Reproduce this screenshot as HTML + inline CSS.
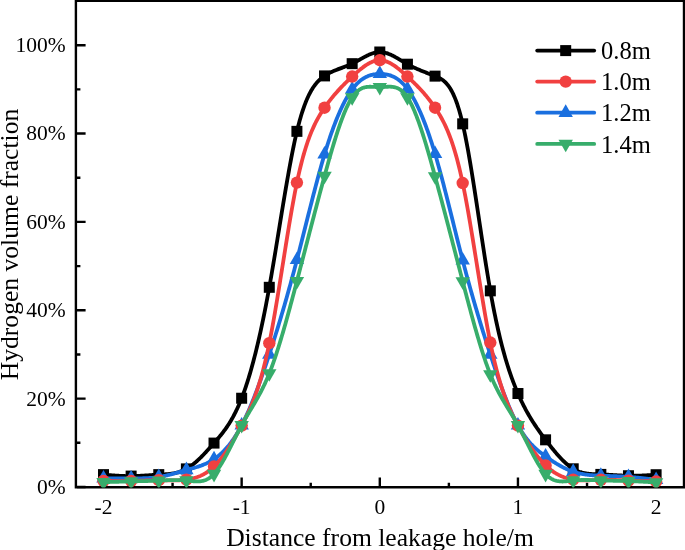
<!DOCTYPE html><html><head><meta charset="utf-8"><style>html,body{margin:0;padding:0;background:#fff;}svg{display:block;will-change:transform;}text{font-family:"Liberation Serif",serif;fill:#000;}</style></head><body>
<svg width="685" height="550" viewBox="0 0 685 550">
<rect x="0" y="0" width="685" height="550" fill="#fff"/>
<path d="M75.9,0 V488.4 M74.7,487.2 H685 M684,0 V488.4 M74.7,0.9 H685" stroke="#000" stroke-width="2.4" fill="none"/>
<path d="M77,487.00 H85.6 M77,398.64 H85.6 M77,310.28 H85.6 M77,221.92 H85.6 M77,133.56 H85.6 M77,45.20 H85.6 M77,442.82 H80.4 M77,354.46 H80.4 M77,266.10 H80.4 M77,177.74 H80.4 M77,89.38 H80.4 M103.50,486 V477.6 M241.65,486 V477.6 M379.80,486 V477.6 M517.95,486 V477.6 M656.10,486 V477.6 M172.57,486 V482.7 M310.73,486 V482.7 M448.88,486 V482.7 M587.03,486 V482.7" stroke="#000" stroke-width="2.4" fill="none"/>
<defs><clipPath id="pc"><rect x="75.9" y="0" width="608" height="487.5"/></clipPath></defs>
<g clip-path="url(#pc)">
<polyline points="103.50,474.63 104.19,474.69 104.88,474.74 105.57,474.80 106.26,474.86 106.95,474.91 107.64,474.97 108.34,475.03 109.03,475.08 109.72,475.13 110.41,475.19 111.10,475.24 111.79,475.29 112.48,475.34 113.17,475.39 113.86,475.44 114.55,475.49 115.24,475.54 115.93,475.58 116.62,475.63 117.31,475.67 118.01,475.71 118.70,475.75 119.39,475.79 120.08,475.82 120.77,475.86 121.46,475.89 122.15,475.92 122.84,475.95 123.53,475.97 124.22,475.99 124.91,476.02 125.60,476.03 126.29,476.05 126.99,476.06 127.68,476.07 128.37,476.08 129.06,476.09 129.75,476.09 130.44,476.09 131.13,476.09 131.82,476.08 132.51,476.07 133.20,476.06 133.89,476.04 134.58,476.03 135.27,476.01 135.97,475.98 136.66,475.96 137.35,475.93 138.04,475.90 138.73,475.87 139.42,475.84 140.11,475.80 140.80,475.77 141.49,475.73 142.18,475.69 142.87,475.65 143.56,475.61 144.25,475.57 144.95,475.52 145.64,475.48 146.33,475.43 147.02,475.39 147.71,475.34 148.40,475.29 149.09,475.25 149.78,475.20 150.47,475.15 151.16,475.11 151.85,475.06 152.54,475.01 153.23,474.97 153.92,474.92 154.62,474.88 155.31,474.83 156.00,474.79 156.69,474.75 157.38,474.71 158.07,474.67 158.76,474.63 159.45,474.59 160.14,474.56 160.83,474.52 161.52,474.49 162.21,474.45 162.90,474.41 163.60,474.37 164.29,474.33 164.98,474.29 165.67,474.24 166.36,474.19 167.05,474.14 167.74,474.08 168.43,474.02 169.12,473.95 169.81,473.87 170.50,473.79 171.19,473.70 171.88,473.60 172.57,473.50 173.27,473.38 173.96,473.26 174.65,473.13 175.34,472.98 176.03,472.83 176.72,472.66 177.41,472.49 178.10,472.30 178.79,472.10 179.48,471.88 180.17,471.65 180.86,471.41 181.55,471.15 182.25,470.88 182.94,470.59 183.63,470.28 184.32,469.96 185.01,469.62 185.70,469.26 186.39,468.89 187.08,468.49 187.77,468.08 188.46,467.65 189.15,467.20 189.84,466.73 190.53,466.25 191.23,465.75 191.92,465.24 192.61,464.71 193.30,464.16 193.99,463.61 194.68,463.03 195.37,462.45 196.06,461.85 196.75,461.23 197.44,460.61 198.13,459.97 198.82,459.32 199.51,458.67 200.21,458.00 200.90,457.32 201.59,456.63 202.28,455.93 202.97,455.22 203.66,454.51 204.35,453.78 205.04,453.05 205.73,452.32 206.42,451.57 207.11,450.82 207.80,450.07 208.49,449.31 209.18,448.54 209.88,447.77 210.57,447.00 211.26,446.22 211.95,445.44 212.64,444.66 213.33,443.87 214.02,443.09 214.71,442.30 215.40,441.51 216.09,440.71 216.78,439.91 217.47,439.11 218.16,438.30 218.86,437.48 219.55,436.65 220.24,435.81 220.93,434.96 221.62,434.09 222.31,433.21 223.00,432.32 223.69,431.41 224.38,430.48 225.07,429.54 225.76,428.57 226.45,427.59 227.14,426.58 227.83,425.55 228.53,424.49 229.22,423.41 229.91,422.30 230.60,421.16 231.29,420.00 231.98,418.80 232.67,417.57 233.36,416.31 234.05,415.02 234.74,413.69 235.43,412.33 236.12,410.93 236.81,409.49 237.51,408.01 238.20,406.49 238.89,404.93 239.58,403.32 240.27,401.68 240.96,399.98 241.65,398.24 242.34,396.45 243.03,394.62 243.72,392.74 244.41,390.80 245.10,388.82 245.79,386.80 246.49,384.72 247.18,382.59 247.87,380.42 248.56,378.19 249.25,375.92 249.94,373.59 250.63,371.22 251.32,368.79 252.01,366.31 252.70,363.79 253.39,361.21 254.08,358.58 254.77,355.90 255.47,353.16 256.16,350.38 256.85,347.54 257.54,344.65 258.23,341.71 258.92,338.72 259.61,335.67 260.30,332.57 260.99,329.41 261.68,326.20 262.37,322.94 263.06,319.63 263.75,316.25 264.44,312.83 265.14,309.35 265.83,305.81 266.52,302.22 267.21,298.58 267.90,294.88 268.59,291.12 269.28,287.31 269.97,283.44 270.66,279.52 271.35,275.55 272.04,271.53 272.73,267.48 273.42,263.39 274.12,259.27 274.81,255.11 275.50,250.94 276.19,246.74 276.88,242.53 277.57,238.31 278.26,234.08 278.95,229.84 279.64,225.60 280.33,221.37 281.02,217.15 281.71,212.93 282.40,208.74 283.10,204.56 283.79,200.40 284.48,196.28 285.17,192.18 285.86,188.13 286.55,184.11 287.24,180.13 287.93,176.21 288.62,172.33 289.31,168.52 290.00,164.76 290.69,161.06 291.38,157.44 292.07,153.88 292.77,150.40 293.46,147.00 294.15,143.69 294.84,140.46 295.53,137.33 296.22,134.29 296.91,131.35 297.60,128.52 298.29,125.78 298.98,123.15 299.67,120.61 300.36,118.17 301.05,115.82 301.75,113.56 302.44,111.40 303.13,109.31 303.82,107.32 304.51,105.40 305.20,103.57 305.89,101.81 306.58,100.13 307.27,98.52 307.96,96.99 308.65,95.52 309.34,94.12 310.03,92.79 310.73,91.51 311.42,90.30 312.11,89.15 312.80,88.05 313.49,87.01 314.18,86.02 314.87,85.08 315.56,84.18 316.25,83.34 316.94,82.53 317.63,81.77 318.32,81.04 319.01,80.35 319.70,79.70 320.40,79.08 321.09,78.49 321.78,77.92 322.47,77.39 323.16,76.87 323.85,76.38 324.54,75.91 325.23,75.45 325.92,75.01 326.61,74.59 327.30,74.18 327.99,73.78 328.68,73.40 329.38,73.03 330.07,72.68 330.76,72.33 331.45,72.00 332.14,71.68 332.83,71.37 333.52,71.06 334.21,70.77 334.90,70.48 335.59,70.19 336.28,69.92 336.97,69.65 337.66,69.38 338.36,69.12 339.05,68.86 339.74,68.61 340.43,68.35 341.12,68.10 341.81,67.85 342.50,67.60 343.19,67.34 343.88,67.09 344.57,66.83 345.26,66.57 345.95,66.31 346.64,66.04 347.33,65.77 348.03,65.49 348.72,65.21 349.41,64.92 350.10,64.62 350.79,64.31 351.48,63.99 352.17,63.67 352.86,63.33 353.55,62.99 354.24,62.63 354.93,62.27 355.62,61.90 356.31,61.53 357.01,61.15 357.70,60.76 358.39,60.38 359.08,59.99 359.77,59.60 360.46,59.21 361.15,58.82 361.84,58.43 362.53,58.05 363.22,57.67 363.91,57.29 364.60,56.92 365.29,56.55 365.99,56.19 366.68,55.85 367.37,55.50 368.06,55.17 368.75,54.86 369.44,54.55 370.13,54.25 370.82,53.97 371.51,53.71 372.20,53.46 372.89,53.22 373.58,53.01 374.27,52.81 374.96,52.63 375.66,52.47 376.35,52.34 377.04,52.22 377.73,52.13 378.42,52.06 379.11,52.02 379.80,52.00 380.49,52.01 381.18,52.05 381.87,52.11 382.56,52.20 383.25,52.31 383.94,52.44 384.64,52.59 385.33,52.76 386.02,52.96 386.71,53.17 387.40,53.40 388.09,53.65 388.78,53.92 389.47,54.20 390.16,54.49 390.85,54.80 391.54,55.13 392.23,55.46 392.92,55.81 393.62,56.17 394.31,56.53 395.00,56.91 395.69,57.29 396.38,57.68 397.07,58.08 397.76,58.48 398.45,58.89 399.14,59.30 399.83,59.71 400.52,60.13 401.21,60.54 401.90,60.96 402.59,61.38 403.29,61.79 403.98,62.20 404.67,62.61 405.36,63.02 406.05,63.42 406.74,63.81 407.43,64.20 408.12,64.58 408.81,64.95 409.50,65.32 410.19,65.67 410.88,66.03 411.57,66.37 412.27,66.71 412.96,67.05 413.65,67.37 414.34,67.70 415.03,68.02 415.72,68.33 416.41,68.64 417.10,68.94 417.79,69.24 418.48,69.54 419.17,69.83 419.86,70.12 420.55,70.41 421.25,70.69 421.94,70.97 422.63,71.25 423.32,71.52 424.01,71.80 424.70,72.07 425.39,72.34 426.08,72.61 426.77,72.88 427.46,73.15 428.15,73.42 428.84,73.69 429.53,73.95 430.22,74.22 430.92,74.49 431.61,74.76 432.30,75.03 432.99,75.30 433.68,75.57 434.37,75.85 435.06,76.13 435.75,76.41 436.44,76.69 437.13,76.98 437.82,77.29 438.51,77.61 439.20,77.95 439.90,78.31 440.59,78.70 441.28,79.12 441.97,79.56 442.66,80.04 443.35,80.56 444.04,81.12 444.73,81.73 445.42,82.38 446.11,83.09 446.80,83.85 447.49,84.67 448.18,85.54 448.88,86.49 449.57,87.50 450.26,88.58 450.95,89.73 451.64,90.96 452.33,92.27 453.02,93.67 453.71,95.15 454.40,96.73 455.09,98.39 455.78,100.16 456.47,102.02 457.16,103.99 457.85,106.06 458.55,108.25 459.24,110.54 459.93,112.96 460.62,115.49 461.31,118.15 462.00,120.93 462.69,123.84 463.38,126.88 464.07,130.05 464.76,133.35 465.45,136.75 466.14,140.27 466.83,143.90 467.53,147.62 468.22,151.44 468.91,155.35 469.60,159.34 470.29,163.41 470.98,167.55 471.67,171.76 472.36,176.03 473.05,180.36 473.74,184.74 474.43,189.16 475.12,193.63 475.81,198.13 476.51,202.65 477.20,207.20 477.89,211.77 478.58,216.35 479.27,220.94 479.96,225.53 480.65,230.11 481.34,234.69 482.03,239.25 482.72,243.79 483.41,248.31 484.10,252.79 484.79,257.24 485.48,261.64 486.18,266.00 486.87,270.30 487.56,274.55 488.25,278.73 488.94,282.85 489.63,286.88 490.32,290.84 491.01,294.71 491.70,298.50 492.39,302.21 493.08,305.83 493.77,309.37 494.46,312.84 495.16,316.22 495.85,319.53 496.54,322.77 497.23,325.93 497.92,329.02 498.61,332.04 499.30,334.99 499.99,337.88 500.68,340.69 501.37,343.44 502.06,346.13 502.75,348.75 503.44,351.32 504.13,353.82 504.83,356.27 505.52,358.66 506.21,360.99 506.90,363.27 507.59,365.50 508.28,367.67 508.97,369.80 509.66,371.87 510.35,373.90 511.04,375.89 511.73,377.83 512.42,379.72 513.11,381.58 513.81,383.39 514.50,385.17 515.19,386.91 515.88,388.61 516.57,390.28 517.26,391.91 517.95,393.52 518.64,395.09 519.33,396.63 520.02,398.14 520.71,399.62 521.40,401.08 522.09,402.51 522.79,403.91 523.48,405.29 524.17,406.64 524.86,407.97 525.55,409.27 526.24,410.55 526.93,411.81 527.62,413.04 528.31,414.26 529.00,415.45 529.69,416.63 530.38,417.78 531.07,418.92 531.77,420.04 532.46,421.15 533.15,422.23 533.84,423.31 534.53,424.36 535.22,425.41 535.91,426.43 536.60,427.45 537.29,428.46 537.98,429.45 538.67,430.43 539.36,431.40 540.05,432.37 540.74,433.32 541.44,434.27 542.13,435.21 542.82,436.14 543.51,437.06 544.20,437.99 544.89,438.90 545.58,439.82 546.27,440.73 546.96,441.63 547.65,442.53 548.34,443.43 549.03,444.32 549.72,445.21 550.42,446.09 551.11,446.96 551.80,447.83 552.49,448.69 553.18,449.54 553.87,450.39 554.56,451.22 555.25,452.05 555.94,452.87 556.63,453.67 557.32,454.47 558.01,455.25 558.70,456.03 559.40,456.79 560.09,457.54 560.78,458.27 561.47,459.00 562.16,459.71 562.85,460.40 563.54,461.08 564.23,461.74 564.92,462.39 565.61,463.03 566.30,463.64 566.99,464.24 567.68,464.83 568.37,465.39 569.07,465.94 569.76,466.46 570.45,466.97 571.14,467.46 571.83,467.93 572.52,468.37 573.21,468.80 573.90,469.20 574.59,469.59 575.28,469.95 575.97,470.29 576.66,470.61 577.35,470.92 578.05,471.21 578.74,471.48 579.43,471.73 580.12,471.96 580.81,472.18 581.50,472.39 582.19,472.58 582.88,472.76 583.57,472.92 584.26,473.07 584.95,473.21 585.64,473.34 586.33,473.45 587.03,473.56 587.72,473.66 588.41,473.74 589.10,473.82 589.79,473.89 590.48,473.95 591.17,474.01 591.86,474.06 592.55,474.10 593.24,474.14 593.93,474.18 594.62,474.21 595.31,474.24 596.00,474.26 596.70,474.28 597.39,474.30 598.08,474.32 598.77,474.34 599.46,474.36 600.15,474.39 600.84,474.41 601.53,474.43 602.22,474.46 602.91,474.49 603.60,474.52 604.29,474.55 604.98,474.58 605.68,474.62 606.37,474.65 607.06,474.69 607.75,474.73 608.44,474.77 609.13,474.81 609.82,474.85 610.51,474.89 611.20,474.93 611.89,474.97 612.58,475.01 613.27,475.05 613.96,475.09 614.66,475.14 615.35,475.18 616.04,475.22 616.73,475.26 617.42,475.30 618.11,475.33 618.80,475.37 619.49,475.41 620.18,475.44 620.87,475.48 621.56,475.51 622.25,475.54 622.94,475.57 623.63,475.60 624.33,475.63 625.02,475.65 625.71,475.67 626.40,475.69 627.09,475.71 627.78,475.72 628.47,475.73 629.16,475.74 629.85,475.75 630.54,475.75 631.23,475.76 631.92,475.76 632.61,475.75 633.31,475.75 634.00,475.74 634.69,475.73 635.38,475.72 636.07,475.70 636.76,475.69 637.45,475.67 638.14,475.65 638.83,475.63 639.52,475.61 640.21,475.58 640.90,475.55 641.59,475.53 642.29,475.50 642.98,475.47 643.67,475.43 644.36,475.40 645.05,475.37 645.74,475.33 646.43,475.30 647.12,475.26 647.81,475.22 648.50,475.18 649.19,475.14 649.88,475.10 650.57,475.06 651.26,475.02 651.96,474.98 652.65,474.93 653.34,474.89 654.03,474.85 654.72,474.80 655.41,474.76 656.10,474.72" fill="none" stroke="#000000" stroke-width="3.8" stroke-linejoin="round"/>
<rect x="98.00" y="469.13" width="11.0" height="11.0" fill="#000000"/>
<rect x="125.63" y="470.59" width="11.0" height="11.0" fill="#000000"/>
<rect x="153.26" y="469.13" width="11.0" height="11.0" fill="#000000"/>
<rect x="180.89" y="463.39" width="11.0" height="11.0" fill="#000000"/>
<rect x="208.52" y="437.59" width="11.0" height="11.0" fill="#000000"/>
<rect x="236.15" y="392.74" width="11.0" height="11.0" fill="#000000"/>
<rect x="263.78" y="281.81" width="11.0" height="11.0" fill="#000000"/>
<rect x="291.41" y="125.85" width="11.0" height="11.0" fill="#000000"/>
<rect x="319.04" y="70.41" width="11.0" height="11.0" fill="#000000"/>
<rect x="346.67" y="58.17" width="11.0" height="11.0" fill="#000000"/>
<rect x="374.30" y="46.50" width="11.0" height="11.0" fill="#000000"/>
<rect x="401.93" y="58.70" width="11.0" height="11.0" fill="#000000"/>
<rect x="429.56" y="70.63" width="11.0" height="11.0" fill="#000000"/>
<rect x="457.19" y="118.34" width="11.0" height="11.0" fill="#000000"/>
<rect x="484.82" y="285.34" width="11.0" height="11.0" fill="#000000"/>
<rect x="512.45" y="388.02" width="11.0" height="11.0" fill="#000000"/>
<rect x="540.08" y="434.32" width="11.0" height="11.0" fill="#000000"/>
<rect x="567.71" y="463.30" width="11.0" height="11.0" fill="#000000"/>
<rect x="595.34" y="468.91" width="11.0" height="11.0" fill="#000000"/>
<rect x="622.97" y="470.23" width="11.0" height="11.0" fill="#000000"/>
<rect x="650.60" y="469.22" width="11.0" height="11.0" fill="#000000"/>
<polyline points="103.50,478.38 104.19,478.38 104.88,478.38 105.57,478.37 106.26,478.37 106.95,478.36 107.64,478.36 108.34,478.35 109.03,478.35 109.72,478.34 110.41,478.34 111.10,478.34 111.79,478.33 112.48,478.33 113.17,478.32 113.86,478.32 114.55,478.32 115.24,478.31 115.93,478.31 116.62,478.31 117.31,478.31 118.01,478.30 118.70,478.30 119.39,478.30 120.08,478.30 120.77,478.29 121.46,478.29 122.15,478.29 122.84,478.29 123.53,478.29 124.22,478.29 124.91,478.29 125.60,478.29 126.29,478.29 126.99,478.29 127.68,478.29 128.37,478.29 129.06,478.29 129.75,478.29 130.44,478.29 131.13,478.30 131.82,478.30 132.51,478.30 133.20,478.30 133.89,478.31 134.58,478.31 135.27,478.31 135.97,478.31 136.66,478.31 137.35,478.31 138.04,478.31 138.73,478.31 139.42,478.31 140.11,478.30 140.80,478.30 141.49,478.29 142.18,478.28 142.87,478.26 143.56,478.25 144.25,478.23 144.95,478.21 145.64,478.19 146.33,478.16 147.02,478.13 147.71,478.10 148.40,478.06 149.09,478.02 149.78,477.98 150.47,477.93 151.16,477.88 151.85,477.83 152.54,477.77 153.23,477.71 153.92,477.64 154.62,477.56 155.31,477.49 156.00,477.40 156.69,477.31 157.38,477.22 158.07,477.12 158.76,477.02 159.45,476.90 160.14,476.79 160.83,476.67 161.52,476.54 162.21,476.40 162.90,476.27 163.60,476.12 164.29,475.98 164.98,475.83 165.67,475.67 166.36,475.51 167.05,475.35 167.74,475.18 168.43,475.01 169.12,474.84 169.81,474.66 170.50,474.48 171.19,474.30 171.88,474.11 172.57,473.93 173.27,473.74 173.96,473.54 174.65,473.35 175.34,473.16 176.03,472.96 176.72,472.76 177.41,472.57 178.10,472.37 178.79,472.17 179.48,471.97 180.17,471.77 180.86,471.57 181.55,471.37 182.25,471.17 182.94,470.97 183.63,470.77 184.32,470.58 185.01,470.38 185.70,470.18 186.39,469.99 187.08,469.80 187.77,469.61 188.46,469.42 189.15,469.23 189.84,469.04 190.53,468.85 191.23,468.66 191.92,468.47 192.61,468.27 193.30,468.08 193.99,467.88 194.68,467.68 195.37,467.47 196.06,467.27 196.75,467.05 197.44,466.84 198.13,466.61 198.82,466.39 199.51,466.15 200.21,465.91 200.90,465.67 201.59,465.41 202.28,465.15 202.97,464.89 203.66,464.61 204.35,464.32 205.04,464.03 205.73,463.72 206.42,463.41 207.11,463.08 207.80,462.75 208.49,462.40 209.18,462.04 209.88,461.67 210.57,461.29 211.26,460.89 211.95,460.48 212.64,460.06 213.33,459.62 214.02,459.17 214.71,458.70 215.40,458.22 216.09,457.72 216.78,457.20 217.47,456.67 218.16,456.13 218.86,455.56 219.55,454.98 220.24,454.38 220.93,453.76 221.62,453.13 222.31,452.47 223.00,451.80 223.69,451.11 224.38,450.40 225.07,449.66 225.76,448.91 226.45,448.14 227.14,447.35 227.83,446.53 228.53,445.70 229.22,444.84 229.91,443.96 230.60,443.05 231.29,442.13 231.98,441.18 232.67,440.21 233.36,439.21 234.05,438.19 234.74,437.15 235.43,436.08 236.12,434.98 236.81,433.86 237.51,432.72 238.20,431.54 238.89,430.35 239.58,429.12 240.27,427.87 240.96,426.59 241.65,425.28 242.34,423.95 243.03,422.58 243.72,421.19 244.41,419.78 245.10,418.33 245.79,416.86 246.49,415.37 247.18,413.85 247.87,412.30 248.56,410.73 249.25,409.14 249.94,407.53 250.63,405.89 251.32,404.22 252.01,402.54 252.70,400.83 253.39,399.11 254.08,397.36 254.77,395.59 255.47,393.80 256.16,391.99 256.85,390.17 257.54,388.32 258.23,386.46 258.92,384.57 259.61,382.67 260.30,380.76 260.99,378.82 261.68,376.87 262.37,374.90 263.06,372.92 263.75,370.93 264.44,368.91 265.14,366.89 265.83,364.85 266.52,362.80 267.21,360.73 267.90,358.65 268.59,356.56 269.28,354.46 269.97,352.35 270.66,350.22 271.35,348.09 272.04,345.94 272.73,343.78 273.42,341.61 274.12,339.42 274.81,337.23 275.50,335.02 276.19,332.80 276.88,330.57 277.57,328.32 278.26,326.07 278.95,323.79 279.64,321.51 280.33,319.22 281.02,316.91 281.71,314.58 282.40,312.25 283.10,309.90 283.79,307.54 284.48,305.16 285.17,302.77 285.86,300.36 286.55,297.95 287.24,295.51 287.93,293.07 288.62,290.61 289.31,288.13 290.00,285.64 290.69,283.14 291.38,280.62 292.07,278.08 292.77,275.53 293.46,272.97 294.15,270.39 294.84,267.79 295.53,265.18 296.22,262.56 296.91,259.91 297.60,257.26 298.29,254.58 298.98,251.90 299.67,249.20 300.36,246.49 301.05,243.77 301.75,241.05 302.44,238.31 303.13,235.57 303.82,232.83 304.51,230.08 305.20,227.33 305.89,224.58 306.58,221.82 307.27,219.07 307.96,216.32 308.65,213.58 309.34,210.84 310.03,208.11 310.73,205.38 311.42,202.66 312.11,199.96 312.80,197.26 313.49,194.58 314.18,191.91 314.87,189.25 315.56,186.61 316.25,183.99 316.94,181.39 317.63,178.81 318.32,176.24 319.01,173.70 319.70,171.19 320.40,168.69 321.09,166.23 321.78,163.79 322.47,161.38 323.16,158.99 323.85,156.64 324.54,154.32 325.23,152.04 325.92,149.79 326.61,147.57 327.30,145.38 327.99,143.23 328.68,141.11 329.38,139.03 330.07,136.97 330.76,134.96 331.45,132.97 332.14,131.02 332.83,129.10 333.52,127.22 334.21,125.37 334.90,123.56 335.59,121.78 336.28,120.03 336.97,118.32 337.66,116.64 338.36,114.99 339.05,113.38 339.74,111.81 340.43,110.27 341.12,108.76 341.81,107.29 342.50,105.85 343.19,104.45 343.88,103.08 344.57,101.74 345.26,100.45 345.95,99.18 346.64,97.95 347.33,96.76 348.03,95.60 348.72,94.47 349.41,93.38 350.10,92.33 350.79,91.31 351.48,90.33 352.17,89.38 352.86,88.47 353.55,87.59 354.24,86.74 354.93,85.93 355.62,85.16 356.31,84.41 357.01,83.70 357.70,83.01 358.39,82.36 359.08,81.74 359.77,81.15 360.46,80.58 361.15,80.05 361.84,79.54 362.53,79.05 363.22,78.60 363.91,78.17 364.60,77.76 365.29,77.38 365.99,77.02 366.68,76.69 367.37,76.38 368.06,76.09 368.75,75.82 369.44,75.57 370.13,75.34 370.82,75.14 371.51,74.95 372.20,74.77 372.89,74.62 373.58,74.48 374.27,74.36 374.96,74.26 375.66,74.17 376.35,74.09 377.04,74.03 377.73,73.99 378.42,73.95 379.11,73.93 379.80,73.92 380.49,73.92 381.18,73.93 381.87,73.95 382.56,73.99 383.25,74.04 383.94,74.10 384.64,74.18 385.33,74.27 386.02,74.38 386.71,74.51 387.40,74.65 388.09,74.81 388.78,74.99 389.47,75.18 390.16,75.40 390.85,75.64 391.54,75.89 392.23,76.17 392.92,76.47 393.62,76.80 394.31,77.14 395.00,77.51 395.69,77.91 396.38,78.33 397.07,78.77 397.76,79.24 398.45,79.74 399.14,80.27 399.83,80.82 400.52,81.40 401.21,82.01 401.90,82.66 402.59,83.33 403.29,84.03 403.98,84.77 404.67,85.53 405.36,86.33 406.05,87.17 406.74,88.04 407.43,88.94 408.12,89.88 408.81,90.85 409.50,91.86 410.19,92.90 410.88,93.98 411.57,95.10 412.27,96.25 412.96,97.43 413.65,98.66 414.34,99.91 415.03,101.20 415.72,102.53 416.41,103.89 417.10,105.29 417.79,106.72 418.48,108.19 419.17,109.69 419.86,111.23 420.55,112.80 421.25,114.41 421.94,116.05 422.63,117.73 423.32,119.44 424.01,121.19 424.70,122.97 425.39,124.79 426.08,126.64 426.77,128.53 427.46,130.45 428.15,132.40 428.84,134.40 429.53,136.42 430.22,138.48 430.92,140.58 431.61,142.71 432.30,144.88 432.99,147.08 433.68,149.31 434.37,151.58 435.06,153.88 435.75,156.22 436.44,158.59 437.13,161.00 437.82,163.43 438.51,165.89 439.20,168.38 439.90,170.90 440.59,173.45 441.28,176.01 441.97,178.60 442.66,181.22 443.35,183.85 444.04,186.50 444.73,189.17 445.42,191.85 446.11,194.55 446.80,197.26 447.49,199.99 448.18,202.72 448.88,205.47 449.57,208.22 450.26,210.98 450.95,213.75 451.64,216.52 452.33,219.29 453.02,222.07 453.71,224.84 454.40,227.62 455.09,230.39 455.78,233.16 456.47,235.92 457.16,238.68 457.85,241.43 458.55,244.17 459.24,246.90 459.93,249.62 460.62,252.33 461.31,255.02 462.00,257.70 462.69,260.36 463.38,263.00 464.07,265.62 464.76,268.23 465.45,270.82 466.14,273.39 466.83,275.95 467.53,278.49 468.22,281.01 468.91,283.52 469.60,286.01 470.29,288.48 470.98,290.94 471.67,293.38 472.36,295.81 473.05,298.23 473.74,300.62 474.43,303.01 475.12,305.38 475.81,307.74 476.51,310.08 477.20,312.41 477.89,314.73 478.58,317.03 479.27,319.32 479.96,321.60 480.65,323.87 481.34,326.13 482.03,328.37 482.72,330.60 483.41,332.82 484.10,335.03 484.79,337.23 485.48,339.42 486.18,341.60 486.87,343.76 487.56,345.92 488.25,348.07 488.94,350.21 489.63,352.34 490.32,354.46 491.01,356.57 491.70,358.68 492.39,360.77 493.08,362.85 493.77,364.92 494.46,366.98 495.16,369.03 495.85,371.06 496.54,373.08 497.23,375.09 497.92,377.08 498.61,379.05 499.30,381.01 499.99,382.95 500.68,384.88 501.37,386.78 502.06,388.67 502.75,390.54 503.44,392.38 504.13,394.21 504.83,396.01 505.52,397.80 506.21,399.56 506.90,401.29 507.59,403.01 508.28,404.69 508.97,406.36 509.66,407.99 510.35,409.60 511.04,411.18 511.73,412.74 512.42,414.26 513.11,415.76 513.81,417.23 514.50,418.67 515.19,420.07 515.88,421.44 516.57,422.79 517.26,424.09 517.95,425.37 518.64,426.61 519.33,427.82 520.02,428.99 520.71,430.13 521.40,431.24 522.09,432.33 522.79,433.38 523.48,434.40 524.17,435.39 524.86,436.36 525.55,437.30 526.24,438.21 526.93,439.10 527.62,439.96 528.31,440.80 529.00,441.62 529.69,442.42 530.38,443.19 531.07,443.95 531.77,444.68 532.46,445.40 533.15,446.09 533.84,446.77 534.53,447.43 535.22,448.08 535.91,448.71 536.60,449.33 537.29,449.93 537.98,450.52 538.67,451.10 539.36,451.67 540.05,452.22 540.74,452.77 541.44,453.31 542.13,453.84 542.82,454.36 543.51,454.87 544.20,455.38 544.89,455.88 545.58,456.38 546.27,456.88 546.96,457.37 547.65,457.86 548.34,458.34 549.03,458.82 549.72,459.29 550.42,459.76 551.11,460.23 551.80,460.69 552.49,461.14 553.18,461.59 553.87,462.03 554.56,462.47 555.25,462.90 555.94,463.33 556.63,463.75 557.32,464.17 558.01,464.58 558.70,464.98 559.40,465.38 560.09,465.77 560.78,466.15 561.47,466.53 562.16,466.89 562.85,467.26 563.54,467.61 564.23,467.96 564.92,468.30 565.61,468.63 566.30,468.95 566.99,469.27 567.68,469.57 568.37,469.87 569.07,470.16 569.76,470.44 570.45,470.71 571.14,470.98 571.83,471.23 572.52,471.48 573.21,471.71 573.90,471.94 574.59,472.16 575.28,472.37 575.97,472.56 576.66,472.75 577.35,472.94 578.05,473.11 578.74,473.28 579.43,473.43 580.12,473.58 580.81,473.73 581.50,473.86 582.19,473.99 582.88,474.12 583.57,474.23 584.26,474.34 584.95,474.45 585.64,474.54 586.33,474.64 587.03,474.72 587.72,474.81 588.41,474.88 589.10,474.95 589.79,475.02 590.48,475.09 591.17,475.15 591.86,475.20 592.55,475.26 593.24,475.30 593.93,475.35 594.62,475.39 595.31,475.43 596.00,475.47 596.70,475.51 597.39,475.54 598.08,475.57 598.77,475.61 599.46,475.63 600.15,475.66 600.84,475.69 601.53,475.72 602.22,475.74 602.91,475.77 603.60,475.79 604.29,475.82 604.98,475.84 605.68,475.87 606.37,475.89 607.06,475.91 607.75,475.94 608.44,475.96 609.13,475.98 609.82,476.01 610.51,476.03 611.20,476.05 611.89,476.08 612.58,476.10 613.27,476.12 613.96,476.15 614.66,476.18 615.35,476.20 616.04,476.23 616.73,476.26 617.42,476.28 618.11,476.31 618.80,476.34 619.49,476.37 620.18,476.40 620.87,476.44 621.56,476.47 622.25,476.51 622.94,476.54 623.63,476.58 624.33,476.62 625.02,476.66 625.71,476.70 626.40,476.74 627.09,476.79 627.78,476.83 628.47,476.88 629.16,476.93 629.85,476.98 630.54,477.04 631.23,477.09 631.92,477.15 632.61,477.21 633.31,477.27 634.00,477.33 634.69,477.39 635.38,477.46 636.07,477.52 636.76,477.59 637.45,477.66 638.14,477.72 638.83,477.80 639.52,477.87 640.21,477.94 640.90,478.01 641.59,478.09 642.29,478.16 642.98,478.24 643.67,478.32 644.36,478.39 645.05,478.47 645.74,478.55 646.43,478.63 647.12,478.71 647.81,478.79 648.50,478.88 649.19,478.96 649.88,479.04 650.57,479.12 651.26,479.21 651.96,479.29 652.65,479.38 653.34,479.46 654.03,479.54 654.72,479.63 655.41,479.71 656.10,479.80" fill="none" stroke="#1A6FDF" stroke-width="3.8" stroke-linejoin="round"/>
<polygon points="103.50,469.98 110.70,482.58 96.30,482.58" fill="#1A6FDF"/>
<polygon points="131.13,469.90 138.33,482.50 123.93,482.50" fill="#1A6FDF"/>
<polygon points="158.76,468.62 165.96,481.22 151.56,481.22" fill="#1A6FDF"/>
<polygon points="186.39,461.59 193.59,474.19 179.19,474.19" fill="#1A6FDF"/>
<polygon points="214.02,450.77 221.22,463.37 206.82,463.37" fill="#1A6FDF"/>
<polygon points="241.65,416.88 248.85,429.48 234.45,429.48" fill="#1A6FDF"/>
<polygon points="269.28,346.06 276.48,358.66 262.08,358.66" fill="#1A6FDF"/>
<polygon points="296.91,251.51 304.11,264.11 289.71,264.11" fill="#1A6FDF"/>
<polygon points="324.54,145.92 331.74,158.52 317.34,158.52" fill="#1A6FDF"/>
<polygon points="352.17,80.98 359.37,93.58 344.97,93.58" fill="#1A6FDF"/>
<polygon points="379.80,65.52 387.00,78.12 372.60,78.12" fill="#1A6FDF"/>
<polygon points="407.43,80.54 414.63,93.14 400.23,93.14" fill="#1A6FDF"/>
<polygon points="435.06,145.48 442.26,158.08 427.86,158.08" fill="#1A6FDF"/>
<polygon points="462.69,251.96 469.89,264.56 455.49,264.56" fill="#1A6FDF"/>
<polygon points="490.32,346.06 497.52,358.66 483.12,358.66" fill="#1A6FDF"/>
<polygon points="517.95,416.97 525.15,429.57 510.75,429.57" fill="#1A6FDF"/>
<polygon points="545.58,447.98 552.78,460.58 538.38,460.58" fill="#1A6FDF"/>
<polygon points="573.21,463.31 580.41,475.91 566.01,475.91" fill="#1A6FDF"/>
<polygon points="600.84,467.29 608.04,479.89 593.64,479.89" fill="#1A6FDF"/>
<polygon points="628.47,468.48 635.67,481.08 621.27,481.08" fill="#1A6FDF"/>
<polygon points="656.10,471.40 663.30,484.00 648.90,484.00" fill="#1A6FDF"/>
<polyline points="103.50,480.90 104.19,480.91 104.88,480.93 105.57,480.94 106.26,480.95 106.95,480.96 107.64,480.97 108.34,480.98 109.03,480.99 109.72,481.00 110.41,481.01 111.10,481.02 111.79,481.03 112.48,481.03 113.17,481.04 113.86,481.05 114.55,481.06 115.24,481.06 115.93,481.07 116.62,481.07 117.31,481.08 118.01,481.08 118.70,481.09 119.39,481.09 120.08,481.09 120.77,481.09 121.46,481.09 122.15,481.09 122.84,481.09 123.53,481.09 124.22,481.09 124.91,481.08 125.60,481.08 126.29,481.07 126.99,481.06 127.68,481.05 128.37,481.04 129.06,481.03 129.75,481.02 130.44,481.01 131.13,480.99 131.82,480.98 132.51,480.96 133.20,480.94 133.89,480.92 134.58,480.90 135.27,480.88 135.97,480.86 136.66,480.83 137.35,480.81 138.04,480.79 138.73,480.76 139.42,480.74 140.11,480.71 140.80,480.69 141.49,480.66 142.18,480.63 142.87,480.61 143.56,480.58 144.25,480.56 144.95,480.53 145.64,480.51 146.33,480.49 147.02,480.46 147.71,480.44 148.40,480.42 149.09,480.40 149.78,480.38 150.47,480.36 151.16,480.34 151.85,480.32 152.54,480.31 153.23,480.29 153.92,480.28 154.62,480.27 155.31,480.26 156.00,480.25 156.69,480.25 157.38,480.24 158.07,480.24 158.76,480.24 159.45,480.24 160.14,480.25 160.83,480.25 161.52,480.26 162.21,480.27 162.90,480.28 163.60,480.29 164.29,480.30 164.98,480.31 165.67,480.32 166.36,480.33 167.05,480.34 167.74,480.35 168.43,480.36 169.12,480.37 169.81,480.38 170.50,480.38 171.19,480.39 171.88,480.39 172.57,480.39 173.27,480.39 173.96,480.39 174.65,480.38 175.34,480.37 176.03,480.36 176.72,480.34 177.41,480.32 178.10,480.29 178.79,480.27 179.48,480.23 180.17,480.20 180.86,480.15 181.55,480.11 182.25,480.06 182.94,480.00 183.63,479.94 184.32,479.87 185.01,479.79 185.70,479.71 186.39,479.62 187.08,479.53 187.77,479.43 188.46,479.32 189.15,479.20 189.84,479.07 190.53,478.94 191.23,478.80 191.92,478.64 192.61,478.48 193.30,478.31 193.99,478.13 194.68,477.93 195.37,477.73 196.06,477.51 196.75,477.28 197.44,477.04 198.13,476.78 198.82,476.52 199.51,476.23 200.21,475.94 200.90,475.63 201.59,475.30 202.28,474.96 202.97,474.61 203.66,474.24 204.35,473.85 205.04,473.45 205.73,473.03 206.42,472.59 207.11,472.13 207.80,471.66 208.49,471.16 209.18,470.65 209.88,470.12 210.57,469.57 211.26,469.00 211.95,468.40 212.64,467.79 213.33,467.16 214.02,466.50 214.71,465.82 215.40,465.12 216.09,464.40 216.78,463.66 217.47,462.90 218.16,462.12 218.86,461.31 219.55,460.49 220.24,459.65 220.93,458.78 221.62,457.90 222.31,457.01 223.00,456.09 223.69,455.15 224.38,454.20 225.07,453.23 225.76,452.24 226.45,451.24 227.14,450.22 227.83,449.18 228.53,448.13 229.22,447.06 229.91,445.98 230.60,444.89 231.29,443.77 231.98,442.65 232.67,441.51 233.36,440.36 234.05,439.19 234.74,438.01 235.43,436.82 236.12,435.62 236.81,434.40 237.51,433.18 238.20,431.94 238.89,430.69 239.58,429.43 240.27,428.16 240.96,426.88 241.65,425.59 242.34,424.29 243.03,422.98 243.72,421.65 244.41,420.31 245.10,418.96 245.79,417.58 246.49,416.18 247.18,414.75 247.87,413.30 248.56,411.82 249.25,410.30 249.94,408.76 250.63,407.18 251.32,405.56 252.01,403.90 252.70,402.20 253.39,400.46 254.08,398.67 254.77,396.83 255.47,394.94 256.16,393.00 256.85,391.00 257.54,388.95 258.23,386.83 258.92,384.66 259.61,382.42 260.30,380.12 260.99,377.74 261.68,375.30 262.37,372.79 263.06,370.20 263.75,367.53 264.44,364.79 265.14,361.97 265.83,359.06 266.52,356.06 267.21,352.98 267.90,349.81 268.59,346.55 269.28,343.19 269.97,339.74 270.66,336.20 271.35,332.57 272.04,328.86 272.73,325.08 273.42,321.22 274.12,317.29 274.81,313.31 275.50,309.26 276.19,305.17 276.88,301.03 277.57,296.84 278.26,292.62 278.95,288.37 279.64,284.09 280.33,279.79 281.02,275.47 281.71,271.13 282.40,266.79 283.10,262.45 283.79,258.11 284.48,253.78 285.17,249.45 285.86,245.15 286.55,240.87 287.24,236.61 287.93,232.39 288.62,228.20 289.31,224.05 290.00,219.95 290.69,215.91 291.38,211.91 292.07,207.98 292.77,204.12 293.46,200.33 294.15,196.61 294.84,192.97 295.53,189.42 296.22,185.96 296.91,182.60 297.60,179.34 298.29,176.17 298.98,173.10 299.67,170.12 300.36,167.24 301.05,164.45 301.75,161.74 302.44,159.12 303.13,156.58 303.82,154.13 304.51,151.75 305.20,149.45 305.89,147.23 306.58,145.08 307.27,143.00 307.96,140.99 308.65,139.04 309.34,137.16 310.03,135.34 310.73,133.58 311.42,131.88 312.11,130.23 312.80,128.64 313.49,127.10 314.18,125.61 314.87,124.17 315.56,122.77 316.25,121.41 316.94,120.10 317.63,118.82 318.32,117.58 319.01,116.38 319.70,115.20 320.40,114.06 321.09,112.95 321.78,111.86 322.47,110.79 323.16,109.75 323.85,108.72 324.54,107.71 325.23,106.72 325.92,105.75 326.61,104.78 327.30,103.84 327.99,102.90 328.68,101.98 329.38,101.07 330.07,100.18 330.76,99.30 331.45,98.43 332.14,97.57 332.83,96.73 333.52,95.89 334.21,95.07 334.90,94.26 335.59,93.46 336.28,92.67 336.97,91.88 337.66,91.11 338.36,90.35 339.05,89.60 339.74,88.85 340.43,88.11 341.12,87.39 341.81,86.67 342.50,85.95 343.19,85.25 343.88,84.55 344.57,83.85 345.26,83.17 345.95,82.49 346.64,81.81 347.33,81.14 348.03,80.47 348.72,79.81 349.41,79.16 350.10,78.50 350.79,77.86 351.48,77.21 352.17,76.57 352.86,75.93 353.55,75.29 354.24,74.66 354.93,74.03 355.62,73.41 356.31,72.80 357.01,72.19 357.70,71.59 358.39,70.99 359.08,70.41 359.77,69.83 360.46,69.27 361.15,68.71 361.84,68.17 362.53,67.64 363.22,67.12 363.91,66.61 364.60,66.12 365.29,65.65 365.99,65.19 366.68,64.74 367.37,64.31 368.06,63.90 368.75,63.51 369.44,63.13 370.13,62.78 370.82,62.45 371.51,62.13 372.20,61.84 372.89,61.57 373.58,61.32 374.27,61.10 374.96,60.90 375.66,60.72 376.35,60.57 377.04,60.45 377.73,60.35 378.42,60.28 379.11,60.23 379.80,60.22 380.49,60.24 381.18,60.28 381.87,60.35 382.56,60.45 383.25,60.58 383.94,60.73 384.64,60.91 385.33,61.11 386.02,61.34 386.71,61.59 387.40,61.86 388.09,62.15 388.78,62.47 389.47,62.80 390.16,63.16 390.85,63.53 391.54,63.93 392.23,64.34 392.92,64.77 393.62,65.21 394.31,65.67 395.00,66.15 395.69,66.64 396.38,67.15 397.07,67.67 397.76,68.20 398.45,68.74 399.14,69.29 399.83,69.86 400.52,70.43 401.21,71.01 401.90,71.61 402.59,72.21 403.29,72.81 403.98,73.43 404.67,74.05 405.36,74.67 406.05,75.30 406.74,75.93 407.43,76.57 408.12,77.21 408.81,77.85 409.50,78.49 410.19,79.14 410.88,79.79 411.57,80.45 412.27,81.11 412.96,81.77 413.65,82.44 414.34,83.12 415.03,83.80 415.72,84.49 416.41,85.19 417.10,85.89 417.79,86.60 418.48,87.32 419.17,88.04 419.86,88.77 420.55,89.52 421.25,90.27 421.94,91.03 422.63,91.80 423.32,92.58 424.01,93.37 424.70,94.17 425.39,94.98 426.08,95.81 426.77,96.64 427.46,97.49 428.15,98.35 428.84,99.22 429.53,100.11 430.22,101.01 430.92,101.92 431.61,102.85 432.30,103.79 432.99,104.75 433.68,105.72 434.37,106.71 435.06,107.71 435.75,108.74 436.44,109.77 437.13,110.83 437.82,111.92 438.51,113.02 439.20,114.15 439.90,115.32 440.59,116.51 441.28,117.73 441.97,118.99 442.66,120.29 443.35,121.62 444.04,123.00 444.73,124.42 445.42,125.88 446.11,127.39 446.80,128.95 447.49,130.56 448.18,132.22 448.88,133.94 449.57,135.72 450.26,137.55 450.95,139.45 451.64,141.41 452.33,143.43 453.02,145.53 453.71,147.69 454.40,149.92 455.09,152.23 455.78,154.61 456.47,157.07 457.16,159.61 457.85,162.23 458.55,164.94 459.24,167.73 459.93,170.61 460.62,173.58 461.31,176.64 462.00,179.79 462.69,183.04 463.38,186.39 464.07,189.83 464.76,193.36 465.45,196.97 466.14,200.67 466.83,204.43 467.53,208.27 468.22,212.17 468.91,216.13 469.60,220.14 470.29,224.21 470.98,228.32 471.67,232.47 472.36,236.66 473.05,240.88 473.74,245.13 474.43,249.39 475.12,253.68 475.81,257.98 476.51,262.28 477.20,266.58 477.89,270.89 478.58,275.19 479.27,279.47 479.96,283.74 480.65,287.99 481.34,292.21 482.03,296.40 482.72,300.55 483.41,304.67 484.10,308.74 484.79,312.75 485.48,316.72 486.18,320.62 486.87,324.46 487.56,328.23 488.25,331.93 488.94,335.55 489.63,339.08 490.32,342.53 491.01,345.89 491.70,349.15 492.39,352.33 493.08,355.41 493.77,358.42 494.46,361.34 495.16,364.17 495.85,366.94 496.54,369.62 497.23,372.23 497.92,374.76 498.61,377.23 499.30,379.62 499.99,381.95 500.68,384.21 501.37,386.41 502.06,388.55 502.75,390.64 503.44,392.66 504.13,394.63 504.83,396.55 505.52,398.41 506.21,400.23 506.90,402.00 507.59,403.72 508.28,405.41 508.97,407.05 509.66,408.65 510.35,410.22 511.04,411.75 511.73,413.25 512.42,414.71 513.11,416.15 513.81,417.56 514.50,418.95 515.19,420.32 515.88,421.66 516.57,422.99 517.26,424.30 517.95,425.59 518.64,426.87 519.33,428.14 520.02,429.39 520.71,430.64 521.40,431.87 522.09,433.08 522.79,434.28 523.48,435.47 524.17,436.65 524.86,437.81 525.55,438.95 526.24,440.08 526.93,441.20 527.62,442.30 528.31,443.39 529.00,444.47 529.69,445.52 530.38,446.57 531.07,447.60 531.77,448.61 532.46,449.61 533.15,450.59 533.84,451.55 534.53,452.50 535.22,453.44 535.91,454.35 536.60,455.25 537.29,456.14 537.98,457.00 538.67,457.85 539.36,458.69 540.05,459.50 540.74,460.30 541.44,461.08 542.13,461.85 542.82,462.59 543.51,463.32 544.20,464.03 544.89,464.72 545.58,465.40 546.27,466.05 546.96,466.69 547.65,467.31 548.34,467.91 549.03,468.49 549.72,469.06 550.42,469.61 551.11,470.14 551.80,470.65 552.49,471.15 553.18,471.64 553.87,472.10 554.56,472.55 555.25,472.99 555.94,473.41 556.63,473.81 557.32,474.20 558.01,474.58 558.70,474.94 559.40,475.29 560.09,475.62 560.78,475.94 561.47,476.25 562.16,476.54 562.85,476.82 563.54,477.09 564.23,477.34 564.92,477.59 565.61,477.82 566.30,478.04 566.99,478.24 567.68,478.44 568.37,478.62 569.07,478.80 569.76,478.96 570.45,479.11 571.14,479.25 571.83,479.39 572.52,479.51 573.21,479.62 573.90,479.73 574.59,479.82 575.28,479.91 575.97,479.98 576.66,480.05 577.35,480.11 578.05,480.17 578.74,480.21 579.43,480.25 580.12,480.29 580.81,480.32 581.50,480.34 582.19,480.35 582.88,480.36 583.57,480.37 584.26,480.37 584.95,480.37 585.64,480.36 586.33,480.35 587.03,480.33 587.72,480.31 588.41,480.29 589.10,480.27 589.79,480.25 590.48,480.22 591.17,480.19 591.86,480.16 592.55,480.13 593.24,480.10 593.93,480.07 594.62,480.03 595.31,480.00 596.00,479.97 596.70,479.94 597.39,479.91 598.08,479.89 598.77,479.86 599.46,479.84 600.15,479.82 600.84,479.80 601.53,479.78 602.22,479.77 602.91,479.76 603.60,479.76 604.29,479.75 604.98,479.75 605.68,479.75 606.37,479.76 607.06,479.77 607.75,479.77 608.44,479.79 609.13,479.80 609.82,479.81 610.51,479.83 611.20,479.85 611.89,479.87 612.58,479.89 613.27,479.91 613.96,479.94 614.66,479.96 615.35,479.99 616.04,480.02 616.73,480.05 617.42,480.08 618.11,480.11 618.80,480.14 619.49,480.17 620.18,480.20 620.87,480.24 621.56,480.27 622.25,480.30 622.94,480.34 623.63,480.37 624.33,480.40 625.02,480.44 625.71,480.47 626.40,480.50 627.09,480.53 627.78,480.56 628.47,480.59 629.16,480.62 629.85,480.65 630.54,480.68 631.23,480.71 631.92,480.74 632.61,480.76 633.31,480.79 634.00,480.81 634.69,480.84 635.38,480.86 636.07,480.88 636.76,480.91 637.45,480.93 638.14,480.95 638.83,480.97 639.52,480.99 640.21,481.01 640.90,481.03 641.59,481.05 642.29,481.07 642.98,481.09 643.67,481.11 644.36,481.12 645.05,481.14 645.74,481.16 646.43,481.17 647.12,481.19 647.81,481.21 648.50,481.22 649.19,481.24 649.88,481.25 650.57,481.27 651.26,481.29 651.96,481.30 652.65,481.32 653.34,481.33 654.03,481.34 654.72,481.36 655.41,481.37 656.10,481.39" fill="none" stroke="#F14040" stroke-width="3.8" stroke-linejoin="round"/>
<circle cx="103.50" cy="480.90" r="6.2" fill="#F14040"/>
<circle cx="131.13" cy="480.99" r="6.2" fill="#F14040"/>
<circle cx="158.76" cy="480.24" r="6.2" fill="#F14040"/>
<circle cx="186.39" cy="479.62" r="6.2" fill="#F14040"/>
<circle cx="214.02" cy="466.50" r="6.2" fill="#F14040"/>
<circle cx="241.65" cy="425.59" r="6.2" fill="#F14040"/>
<circle cx="269.28" cy="343.19" r="6.2" fill="#F14040"/>
<circle cx="296.91" cy="182.60" r="6.2" fill="#F14040"/>
<circle cx="324.54" cy="107.71" r="6.2" fill="#F14040"/>
<circle cx="352.17" cy="76.57" r="6.2" fill="#F14040"/>
<circle cx="379.80" cy="60.22" r="6.2" fill="#F14040"/>
<circle cx="407.43" cy="76.57" r="6.2" fill="#F14040"/>
<circle cx="435.06" cy="107.71" r="6.2" fill="#F14040"/>
<circle cx="462.69" cy="183.04" r="6.2" fill="#F14040"/>
<circle cx="490.32" cy="342.53" r="6.2" fill="#F14040"/>
<circle cx="517.95" cy="425.59" r="6.2" fill="#F14040"/>
<circle cx="545.58" cy="465.40" r="6.2" fill="#F14040"/>
<circle cx="573.21" cy="479.62" r="6.2" fill="#F14040"/>
<circle cx="600.84" cy="479.80" r="6.2" fill="#F14040"/>
<circle cx="628.47" cy="480.59" r="6.2" fill="#F14040"/>
<circle cx="656.10" cy="481.39" r="6.2" fill="#F14040"/>
<polyline points="103.50,482.18 104.19,482.16 104.88,482.14 105.57,482.12 106.26,482.10 106.95,482.08 107.64,482.06 108.34,482.04 109.03,482.01 109.72,481.99 110.41,481.97 111.10,481.95 111.79,481.93 112.48,481.91 113.17,481.89 113.86,481.87 114.55,481.85 115.24,481.83 115.93,481.81 116.62,481.79 117.31,481.77 118.01,481.75 118.70,481.73 119.39,481.71 120.08,481.69 120.77,481.67 121.46,481.65 122.15,481.63 122.84,481.61 123.53,481.59 124.22,481.57 124.91,481.55 125.60,481.53 126.29,481.51 126.99,481.50 127.68,481.48 128.37,481.46 129.06,481.44 129.75,481.42 130.44,481.41 131.13,481.39 131.82,481.37 132.51,481.36 133.20,481.34 133.89,481.32 134.58,481.31 135.27,481.29 135.97,481.27 136.66,481.26 137.35,481.24 138.04,481.22 138.73,481.21 139.42,481.19 140.11,481.17 140.80,481.16 141.49,481.14 142.18,481.12 142.87,481.11 143.56,481.09 144.25,481.07 144.95,481.05 145.64,481.03 146.33,481.02 147.02,481.00 147.71,480.98 148.40,480.96 149.09,480.94 149.78,480.92 150.47,480.89 151.16,480.87 151.85,480.85 152.54,480.83 153.23,480.80 153.92,480.78 154.62,480.76 155.31,480.73 156.00,480.71 156.69,480.68 157.38,480.65 158.07,480.62 158.76,480.59 159.45,480.56 160.14,480.53 160.83,480.50 161.52,480.47 162.21,480.44 162.90,480.41 163.60,480.38 164.29,480.35 164.98,480.32 165.67,480.29 166.36,480.26 167.05,480.23 167.74,480.20 168.43,480.18 169.12,480.15 169.81,480.13 170.50,480.11 171.19,480.09 171.88,480.08 172.57,480.06 173.27,480.05 173.96,480.04 174.65,480.03 175.34,480.03 176.03,480.03 176.72,480.03 177.41,480.04 178.10,480.05 178.79,480.06 179.48,480.08 180.17,480.10 180.86,480.13 181.55,480.16 182.25,480.19 182.94,480.23 183.63,480.28 184.32,480.33 185.01,480.38 185.70,480.44 186.39,480.51 187.08,480.58 187.77,480.65 188.46,480.73 189.15,480.81 189.84,480.89 190.53,480.97 191.23,481.05 191.92,481.12 192.61,481.19 193.30,481.26 193.99,481.31 194.68,481.36 195.37,481.40 196.06,481.43 196.75,481.44 197.44,481.44 198.13,481.43 198.82,481.40 199.51,481.35 200.21,481.29 200.90,481.20 201.59,481.09 202.28,480.96 202.97,480.81 203.66,480.63 204.35,480.42 205.04,480.19 205.73,479.92 206.42,479.63 207.11,479.30 207.80,478.94 208.49,478.55 209.18,478.12 209.88,477.65 210.57,477.15 211.26,476.61 211.95,476.02 212.64,475.40 213.33,474.73 214.02,474.01 214.71,473.25 215.40,472.45 216.09,471.60 216.78,470.71 217.47,469.78 218.16,468.82 218.86,467.82 219.55,466.78 220.24,465.71 220.93,464.61 221.62,463.48 222.31,462.32 223.00,461.14 223.69,459.93 224.38,458.70 225.07,457.44 225.76,456.17 226.45,454.88 227.14,453.57 227.83,452.24 228.53,450.91 229.22,449.56 229.91,448.20 230.60,446.83 231.29,445.46 231.98,444.08 232.67,442.70 233.36,441.31 234.05,439.93 234.74,438.55 235.43,437.17 236.12,435.79 236.81,434.42 237.51,433.06 238.20,431.71 238.89,430.37 239.58,429.04 240.27,427.73 240.96,426.43 241.65,425.15 242.34,423.89 243.03,422.64 243.72,421.42 244.41,420.21 245.10,419.01 245.79,417.82 246.49,416.64 247.18,415.47 247.87,414.31 248.56,413.16 249.25,412.00 249.94,410.86 250.63,409.71 251.32,408.56 252.01,407.41 252.70,406.25 253.39,405.09 254.08,403.93 254.77,402.75 255.47,401.57 256.16,400.37 256.85,399.16 257.54,397.94 258.23,396.70 258.92,395.44 259.61,394.17 260.30,392.87 260.99,391.55 261.68,390.21 262.37,388.84 263.06,387.45 263.75,386.03 264.44,384.58 265.14,383.09 265.83,381.58 266.52,380.03 267.21,378.44 267.90,376.82 268.59,375.16 269.28,373.46 269.97,371.71 270.66,369.93 271.35,368.10 272.04,366.24 272.73,364.34 273.42,362.40 274.12,360.42 274.81,358.41 275.50,356.37 276.19,354.29 276.88,352.18 277.57,350.04 278.26,347.86 278.95,345.66 279.64,343.43 280.33,341.17 281.02,338.88 281.71,336.57 282.40,334.24 283.10,331.88 283.79,329.49 284.48,327.09 285.17,324.66 285.86,322.21 286.55,319.75 287.24,317.27 287.93,314.77 288.62,312.25 289.31,309.72 290.00,307.17 290.69,304.61 291.38,302.04 292.07,299.45 292.77,296.86 293.46,294.25 294.15,291.64 294.84,289.02 295.53,286.39 296.22,283.76 296.91,281.12 297.60,278.48 298.29,275.83 298.98,273.18 299.67,270.53 300.36,267.88 301.05,265.22 301.75,262.56 302.44,259.90 303.13,257.24 303.82,254.58 304.51,251.92 305.20,249.26 305.89,246.59 306.58,243.93 307.27,241.27 307.96,238.61 308.65,235.95 309.34,233.29 310.03,230.64 310.73,227.99 311.42,225.34 312.11,222.69 312.80,220.05 313.49,217.41 314.18,214.77 314.87,212.14 315.56,209.52 316.25,206.90 316.94,204.28 317.63,201.67 318.32,199.07 319.01,196.47 319.70,193.88 320.40,191.30 321.09,188.72 321.78,186.16 322.47,183.60 323.16,181.05 323.85,178.51 324.54,175.97 325.23,173.45 325.92,170.94 326.61,168.44 327.30,165.95 327.99,163.48 328.68,161.03 329.38,158.59 330.07,156.17 330.76,153.78 331.45,151.40 332.14,149.05 332.83,146.72 333.52,144.42 334.21,142.15 334.90,139.91 335.59,137.70 336.28,135.51 336.97,133.37 337.66,131.25 338.36,129.18 339.05,127.14 339.74,125.13 340.43,123.17 341.12,121.25 341.81,119.38 342.50,117.55 343.19,115.76 343.88,114.02 344.57,112.33 345.26,110.69 345.95,109.10 346.64,107.56 347.33,106.08 348.03,104.65 348.72,103.28 349.41,101.97 350.10,100.72 350.79,99.53 351.48,98.40 352.17,97.33 352.86,96.33 353.55,95.40 354.24,94.52 354.93,93.70 355.62,92.94 356.31,92.24 357.01,91.59 357.70,90.99 358.39,90.44 359.08,89.94 359.77,89.49 360.46,89.07 361.15,88.70 361.84,88.37 362.53,88.08 363.22,87.82 363.91,87.59 364.60,87.40 365.29,87.24 365.99,87.10 366.68,86.99 367.37,86.91 368.06,86.84 368.75,86.80 369.44,86.77 370.13,86.76 370.82,86.76 371.51,86.78 372.20,86.80 372.89,86.84 373.58,86.88 374.27,86.92 374.96,86.96 375.66,87.01 376.35,87.05 377.04,87.09 377.73,87.13 378.42,87.15 379.11,87.17 379.80,87.17 380.49,87.16 381.18,87.14 381.87,87.11 382.56,87.07 383.25,87.03 383.94,86.98 384.64,86.93 385.33,86.88 386.02,86.83 386.71,86.79 387.40,86.75 388.09,86.73 388.78,86.71 389.47,86.70 390.16,86.71 390.85,86.73 391.54,86.77 392.23,86.84 392.92,86.92 393.62,87.03 394.31,87.16 395.00,87.33 395.69,87.52 396.38,87.74 397.07,88.00 397.76,88.30 398.45,88.63 399.14,89.00 399.83,89.42 400.52,89.88 401.21,90.38 401.90,90.94 402.59,91.54 403.29,92.20 403.98,92.91 404.67,93.67 405.36,94.49 406.05,95.38 406.74,96.32 407.43,97.33 408.12,98.41 408.81,99.55 409.50,100.75 410.19,102.01 410.88,103.34 411.57,104.72 412.27,106.16 412.96,107.66 413.65,109.21 414.34,110.81 415.03,112.47 415.72,114.17 416.41,115.93 417.10,117.73 417.79,119.57 418.48,121.47 419.17,123.40 419.86,125.38 420.55,127.39 421.25,129.45 421.94,131.54 422.63,133.67 423.32,135.83 424.01,138.02 424.70,140.25 425.39,142.50 426.08,144.79 426.77,147.10 427.46,149.43 428.15,151.80 428.84,154.18 429.53,156.58 430.22,159.01 430.92,161.45 431.61,163.91 432.30,166.39 432.99,168.88 433.68,171.38 434.37,173.89 435.06,176.41 435.75,178.95 436.44,181.49 437.13,184.03 437.82,186.59 438.51,189.15 439.20,191.72 439.90,194.29 440.59,196.88 441.28,199.46 441.97,202.06 442.66,204.66 443.35,207.26 444.04,209.87 444.73,212.49 445.42,215.11 446.11,217.73 446.80,220.36 447.49,223.00 448.18,225.63 448.88,228.27 449.57,230.91 450.26,233.56 450.95,236.20 451.64,238.85 452.33,241.51 453.02,244.16 453.71,246.81 454.40,249.47 455.09,252.13 455.78,254.79 456.47,257.44 457.16,260.10 457.85,262.76 458.55,265.42 459.24,268.07 459.93,270.73 460.62,273.39 461.31,276.04 462.00,278.69 462.69,281.34 463.38,283.99 464.07,286.63 464.76,289.27 465.45,291.91 466.14,294.54 466.83,297.16 467.53,299.77 468.22,302.37 468.91,304.97 469.60,307.55 470.29,310.12 470.98,312.67 471.67,315.21 472.36,317.73 473.05,320.24 473.74,322.73 474.43,325.20 475.12,327.65 475.81,330.08 476.51,332.48 477.20,334.87 477.89,337.22 478.58,339.56 479.27,341.87 479.96,344.15 480.65,346.40 481.34,348.62 482.03,350.81 482.72,352.97 483.41,355.10 484.10,357.19 484.79,359.25 485.48,361.27 486.18,363.26 486.87,365.21 487.56,367.12 488.25,368.98 488.94,370.81 489.63,372.60 490.32,374.34 491.01,376.04 491.70,377.70 492.39,379.31 493.08,380.89 493.77,382.43 494.46,383.93 495.16,385.40 495.85,386.83 496.54,388.24 497.23,389.61 497.92,390.96 498.61,392.28 499.30,393.57 499.99,394.84 500.68,396.09 501.37,397.33 502.06,398.54 502.75,399.73 503.44,400.92 504.13,402.08 504.83,403.24 505.52,404.39 506.21,405.52 506.90,406.65 507.59,407.78 508.28,408.90 508.97,410.02 509.66,411.14 510.35,412.26 511.04,413.39 511.73,414.52 512.42,415.65 513.11,416.79 513.81,417.95 514.50,419.11 515.19,420.29 515.88,421.48 516.57,422.68 517.26,423.91 517.95,425.15 518.64,426.41 519.33,427.69 520.02,428.99 520.71,430.31 521.40,431.64 522.09,432.98 522.79,434.33 523.48,435.69 524.17,437.06 524.86,438.44 525.55,439.82 526.24,441.20 526.93,442.58 527.62,443.96 528.31,445.34 529.00,446.71 529.69,448.08 530.38,449.44 531.07,450.79 531.77,452.13 532.46,453.46 533.15,454.77 533.84,456.07 534.53,457.35 535.22,458.60 535.91,459.84 536.60,461.06 537.29,462.25 537.98,463.41 538.67,464.55 539.36,465.66 540.05,466.73 540.74,467.77 541.44,468.78 542.13,469.75 542.82,470.69 543.51,471.58 544.20,472.44 544.89,473.25 545.58,474.01 546.27,474.73 546.96,475.41 547.65,476.04 548.34,476.62 549.03,477.17 549.72,477.68 550.42,478.15 551.11,478.58 551.80,478.98 552.49,479.34 553.18,479.66 553.87,479.96 554.56,480.22 555.25,480.46 555.94,480.67 556.63,480.85 557.32,481.00 558.01,481.13 558.70,481.24 559.40,481.33 560.09,481.39 560.78,481.44 561.47,481.47 562.16,481.48 562.85,481.48 563.54,481.46 564.23,481.43 564.92,481.39 565.61,481.34 566.30,481.28 566.99,481.22 567.68,481.15 568.37,481.07 569.07,480.99 569.76,480.91 570.45,480.82 571.14,480.74 571.83,480.66 572.52,480.58 573.21,480.51 573.90,480.44 574.59,480.37 575.28,480.32 575.97,480.26 576.66,480.22 577.35,480.17 578.05,480.14 578.74,480.10 579.43,480.07 580.12,480.05 580.81,480.03 581.50,480.01 582.19,480.00 582.88,479.99 583.57,479.98 584.26,479.97 584.95,479.97 585.64,479.98 586.33,479.98 587.03,479.99 587.72,480.00 588.41,480.01 589.10,480.03 589.79,480.04 590.48,480.06 591.17,480.08 591.86,480.10 592.55,480.12 593.24,480.14 593.93,480.17 594.62,480.19 595.31,480.22 596.00,480.24 596.70,480.27 597.39,480.29 598.08,480.32 598.77,480.34 599.46,480.37 600.15,480.39 600.84,480.42 601.53,480.44 602.22,480.46 602.91,480.48 603.60,480.50 604.29,480.52 604.98,480.54 605.68,480.56 606.37,480.58 607.06,480.59 607.75,480.61 608.44,480.63 609.13,480.64 609.82,480.66 610.51,480.67 611.20,480.69 611.89,480.70 612.58,480.71 613.27,480.73 613.96,480.74 614.66,480.76 615.35,480.77 616.04,480.78 616.73,480.80 617.42,480.81 618.11,480.82 618.80,480.84 619.49,480.85 620.18,480.87 620.87,480.88 621.56,480.90 622.25,480.91 622.94,480.93 623.63,480.95 624.33,480.96 625.02,480.98 625.71,481.00 626.40,481.02 627.09,481.04 627.78,481.06 628.47,481.08 629.16,481.10 629.85,481.13 630.54,481.15 631.23,481.17 631.92,481.20 632.61,481.23 633.31,481.25 634.00,481.28 634.69,481.31 635.38,481.34 636.07,481.37 636.76,481.40 637.45,481.43 638.14,481.46 638.83,481.49 639.52,481.52 640.21,481.56 640.90,481.59 641.59,481.62 642.29,481.66 642.98,481.69 643.67,481.73 644.36,481.76 645.05,481.80 645.74,481.84 646.43,481.87 647.12,481.91 647.81,481.95 648.50,481.98 649.19,482.02 649.88,482.06 650.57,482.10 651.26,482.13 651.96,482.17 652.65,482.21 653.34,482.25 654.03,482.29 654.72,482.33 655.41,482.37 656.10,482.41" fill="none" stroke="#37AD6B" stroke-width="3.8" stroke-linejoin="round"/>
<polygon points="96.30,477.98 110.70,477.98 103.50,490.58" fill="#37AD6B"/>
<polygon points="123.93,477.19 138.33,477.19 131.13,489.79" fill="#37AD6B"/>
<polygon points="151.56,476.39 165.96,476.39 158.76,488.99" fill="#37AD6B"/>
<polygon points="179.19,476.31 193.59,476.31 186.39,488.91" fill="#37AD6B"/>
<polygon points="206.82,469.81 221.22,469.81 214.02,482.41" fill="#37AD6B"/>
<polygon points="234.45,420.95 248.85,420.95 241.65,433.55" fill="#37AD6B"/>
<polygon points="262.08,369.26 276.48,369.26 269.28,381.86" fill="#37AD6B"/>
<polygon points="289.71,276.92 304.11,276.92 296.91,289.52" fill="#37AD6B"/>
<polygon points="317.34,171.77 331.74,171.77 324.54,184.37" fill="#37AD6B"/>
<polygon points="344.97,93.13 359.37,93.13 352.17,105.73" fill="#37AD6B"/>
<polygon points="372.60,82.97 387.00,82.97 379.80,95.57" fill="#37AD6B"/>
<polygon points="400.23,93.13 414.63,93.13 407.43,105.73" fill="#37AD6B"/>
<polygon points="427.86,172.21 442.26,172.21 435.06,184.81" fill="#37AD6B"/>
<polygon points="455.49,277.14 469.89,277.14 462.69,289.74" fill="#37AD6B"/>
<polygon points="483.12,370.14 497.52,370.14 490.32,382.74" fill="#37AD6B"/>
<polygon points="510.75,420.95 525.15,420.95 517.95,433.55" fill="#37AD6B"/>
<polygon points="538.38,469.81 552.78,469.81 545.58,482.41" fill="#37AD6B"/>
<polygon points="566.01,476.31 580.41,476.31 573.21,488.91" fill="#37AD6B"/>
<polygon points="593.64,476.22 608.04,476.22 600.84,488.82" fill="#37AD6B"/>
<polygon points="621.27,476.88 635.67,476.88 628.47,489.48" fill="#37AD6B"/>
<polygon points="648.90,478.21 663.30,478.21 656.10,490.81" fill="#37AD6B"/>
</g>
<text x="65.6" y="493.90" font-size="21.5" text-anchor="end">0%</text>
<text x="65.6" y="405.54" font-size="21.5" text-anchor="end">20%</text>
<text x="65.6" y="317.18" font-size="21.5" text-anchor="end">40%</text>
<text x="65.6" y="228.82" font-size="21.5" text-anchor="end">60%</text>
<text x="65.6" y="140.46" font-size="21.5" text-anchor="end">80%</text>
<text x="65.6" y="52.10" font-size="21.5" text-anchor="end">100%</text>
<text x="103.50" y="514" font-size="21.5" text-anchor="middle">-2</text>
<text x="241.65" y="514" font-size="21.5" text-anchor="middle">-1</text>
<text x="379.80" y="514" font-size="21.5" text-anchor="middle">0</text>
<text x="517.95" y="514" font-size="21.5" text-anchor="middle">1</text>
<text x="656.10" y="514" font-size="21.5" text-anchor="middle">2</text>
<text x="380" y="546.4" font-size="25.6" text-anchor="middle">Distance from leakage hole/m</text>
<text transform="translate(18,244.5) rotate(-90)" x="0" y="0" font-size="25.6" text-anchor="middle">Hydrogen volume fraction</text>
<line x1="537.2" y1="50.6" x2="594.2" y2="50.6" stroke="#000000" stroke-width="3.8" stroke-linecap="round"/>
<rect x="560.20" y="45.10" width="11.0" height="11.0" fill="#000000"/>
<text x="601" y="59.20" font-size="24.5">0.8m</text>
<line x1="537.2" y1="81.6" x2="594.2" y2="81.6" stroke="#F14040" stroke-width="3.8" stroke-linecap="round"/>
<circle cx="565.70" cy="81.60" r="6.2" fill="#F14040"/>
<text x="601" y="90.20" font-size="24.5">1.0m</text>
<line x1="537.2" y1="112.7" x2="594.2" y2="112.7" stroke="#1A6FDF" stroke-width="3.8" stroke-linecap="round"/>
<polygon points="565.70,104.30 572.90,116.90 558.50,116.90" fill="#1A6FDF"/>
<text x="601" y="121.30" font-size="24.5">1.2m</text>
<line x1="537.2" y1="143.9" x2="594.2" y2="143.9" stroke="#37AD6B" stroke-width="3.8" stroke-linecap="round"/>
<polygon points="558.50,139.70 572.90,139.70 565.70,152.30" fill="#37AD6B"/>
<text x="601" y="152.50" font-size="24.5">1.4m</text>
</svg></body></html>
